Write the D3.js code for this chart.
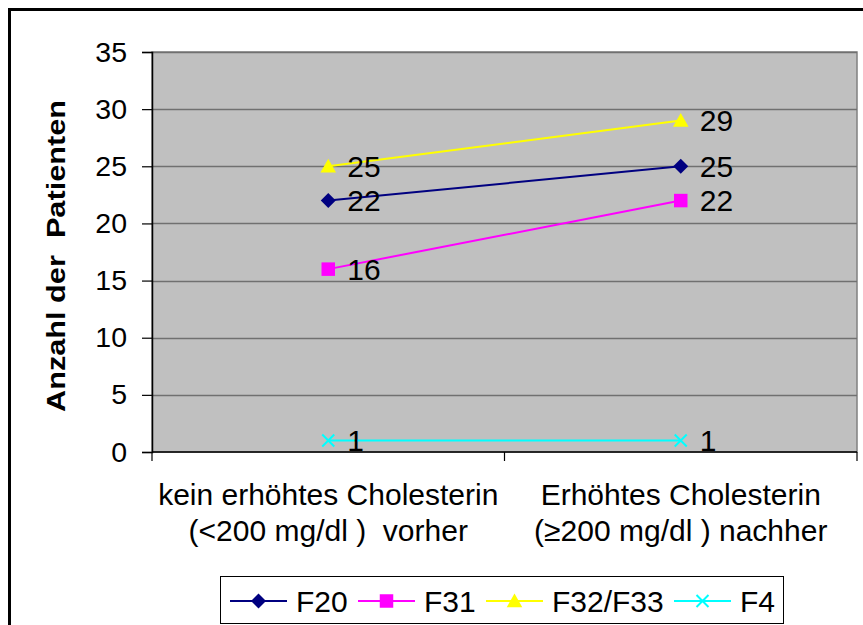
<!DOCTYPE html>
<html>
<head>
<meta charset="utf-8">
<script src="https://cdn.jsdelivr.net/npm/d3@7/dist/d3.min.js"></script>
<style>
  html, body { margin: 0; padding: 0; background: #fff; }
  svg { display: block; font-family: "Liberation Sans", Arial, sans-serif; }
</style>
</head>
<body>
<svg id="chart" width="863" height="625"></svg>
<script>
// Category labels (two lines each)
const categories = ["vorher", "nachher"];
const categoryLines = [
  ["kein erhöhtes Cholesterin", "(<200 mg/dl )  vorher"],
  ["Erhöhtes Cholesterin", "(\u2265200 mg/dl ) nachher"]
];

// Series
const seriesNames = ["F20", "F31", "F32/F33", "F4"];
const valuesF20 = [22, 25];
const valuesF31 = [16, 22];
const valuesF32F33 = [25, 29];
const valuesF4 = [1, 1];

const yTicks = [0, 5, 10, 15, 20, 25, 30, 35];
const yTitle = "Anzahl der  Patienten";

const series = [
  { name: seriesNames[0], values: valuesF20, color: "#000080", symbol: "diamond" },
  { name: seriesNames[1], values: valuesF31, color: "#FF00FF", symbol: "square" },
  { name: seriesNames[2], values: valuesF32F33, color: "#FFFF00", symbol: "triangle" },
  { name: seriesNames[3], values: valuesF4, color: "#00FFFF", symbol: "cross" }
];

const svg = d3.select("#chart");
const plot = { left: 152, top: 52, right: 857, bottom: 452 };
const FONT = 30;
const TICK_FONT = 28.5;

// Outer frame
svg.append("rect")
  .attr("x", 9.5).attr("y", 9.5)
  .attr("width", 900).attr("height", 700)
  .attr("fill", "none").attr("stroke", "#000").attr("stroke-width", 3);

const x = d3.scaleBand().domain(categories).range([plot.left, plot.right]);
const y = d3.scaleLinear().domain([0, 35]).range([plot.bottom, plot.top]);

// Plot background
svg.append("rect")
  .attr("x", plot.left).attr("y", plot.top)
  .attr("width", plot.right - plot.left).attr("height", plot.bottom - plot.top)
  .attr("fill", "#C0C0C0").attr("stroke", "#808080").attr("stroke-width", 1.5);

// Horizontal gridlines
svg.append("g").selectAll("line")
  .data(yTicks.filter(t => t > 0))
  .join("line")
  .attr("x1", plot.left).attr("x2", plot.right)
  .attr("y1", d => Math.round(y(d)) + 0.5).attr("y2", d => Math.round(y(d)) + 0.5)
  .attr("stroke", "#707070").attr("stroke-width", 1.5);

// Y axis
const yAxis = svg.append("g")
  .attr("transform", `translate(${plot.left},0)`)
  .call(d3.axisLeft(y).tickValues(yTicks).tickSize(10).tickPadding(15));
yAxis.select(".domain").attr("stroke", "#000").attr("stroke-width", 1.5);
yAxis.selectAll(".tick line").attr("stroke", "#000").attr("stroke-width", 1.2);
yAxis.selectAll(".tick text")
  .attr("font-size", TICK_FONT).attr("font-family", "'Liberation Sans', Arial, sans-serif")
  .attr("fill", "#000");

// X axis line and boundary ticks
svg.append("line")
  .attr("x1", plot.left).attr("x2", plot.right)
  .attr("y1", plot.bottom).attr("y2", plot.bottom)
  .attr("stroke", "#000").attr("stroke-width", 1.5);
const xBounds = [plot.left, ...categories.map(c => x(c) + x.bandwidth())];
svg.append("g").selectAll("line")
  .data(xBounds)
  .join("line")
  .attr("x1", d => d).attr("x2", d => d)
  .attr("y1", plot.bottom).attr("y2", plot.bottom + 9)
  .attr("stroke", "#000").attr("stroke-width", 1.2);

// Category labels
const catG = svg.append("g");
categories.forEach((c, i) => {
  const t = catG.append("text")
    .attr("x", x(c) + x.bandwidth() / 2)
    .attr("text-anchor", "middle")
    .attr("font-size", FONT);
  categoryLines[i].forEach((line, j) => {
    t.append("tspan")
      .attr("x", x(c) + x.bandwidth() / 2)
      .attr("y", 505 + j * 36)
      .attr("xml:space", "preserve")
      .text(line);
  });
});

// Y axis title
svg.append("text")
  .attr("transform", `translate(65,256) rotate(-90)`)
  .attr("text-anchor", "middle")
  .attr("font-size", 25).attr("font-weight", "bold")
  .attr("textLength", 312).attr("lengthAdjust", "spacingAndGlyphs")
  .attr("xml:space", "preserve")
  .text(yTitle);

// Marker drawing
function drawMarker(g, sym, color, size) {
  const s = size;
  if (sym === "diamond") {
    g.append("path").attr("d", `M0,${-s / 2}L${s / 2},0L0,${s / 2}L${-s / 2},0Z`).attr("fill", color);
  } else if (sym === "square") {
    g.append("rect").attr("x", -s * 0.45).attr("y", -s * 0.45)
      .attr("width", s * 0.9).attr("height", s * 0.9).attr("fill", color);
  } else if (sym === "triangle") {
    g.append("path").attr("d", `M0,${-s * 0.5}L${s * 0.52},${s * 0.42}L${-s * 0.52},${s * 0.42}Z`).attr("fill", color);
  } else if (sym === "cross") {
    const h = s * 0.4;
    g.append("path").attr("d", `M${-h},${-h}L${h},${h}M${-h},${h}L${h},${-h}`)
      .attr("stroke", color).attr("stroke-width", 2).attr("fill", "none");
  }
}

const cx = c => x(c) + x.bandwidth() / 2;
const line = d3.line().x((d, i) => cx(categories[i])).y(d => y(d));

series.forEach(s => {
  const g = svg.append("g");
  g.append("path")
    .attr("d", line(s.values))
    .attr("fill", "none").attr("stroke", s.color).attr("stroke-width", 2);
  s.values.forEach((v, i) => {
    const mg = g.append("g").attr("transform", `translate(${cx(categories[i])},${y(v)})`);
    drawMarker(mg, s.symbol, s.color, 15);
  });
});

// Data labels
series.forEach(s => {
  s.values.forEach((v, i) => {
    svg.append("text")
      .attr("x", cx(categories[i]) + 19)
      .attr("y", y(v))
      .attr("dy", "0.36em")
      .attr("font-size", FONT)
      .text(v);
  });
});

// Legend
const legend = svg.append("g");
legend.append("rect")
  .attr("x", 220.5).attr("y", 576.5).attr("width", 563).attr("height", 47)
  .attr("fill", "#fff").attr("stroke", "#000").attr("stroke-width", 1);
const legendX = [230, 358, 486, 674];
series.forEach((s, i) => {
  const lx = legendX[i], ly = 601;
  legend.append("line")
    .attr("x1", lx).attr("x2", lx + 57).attr("y1", ly).attr("y2", ly)
    .attr("stroke", s.color).attr("stroke-width", 2);
  const mg = legend.append("g").attr("transform", `translate(${lx + 28.5},${ly})`);
  drawMarker(mg, s.symbol, s.color, 15);
  legend.append("text")
    .attr("x", lx + 66).attr("y", ly).attr("dy", "0.36em")
    .attr("font-size", FONT)
    .text(s.name);
});
</script>
</body>
</html>
